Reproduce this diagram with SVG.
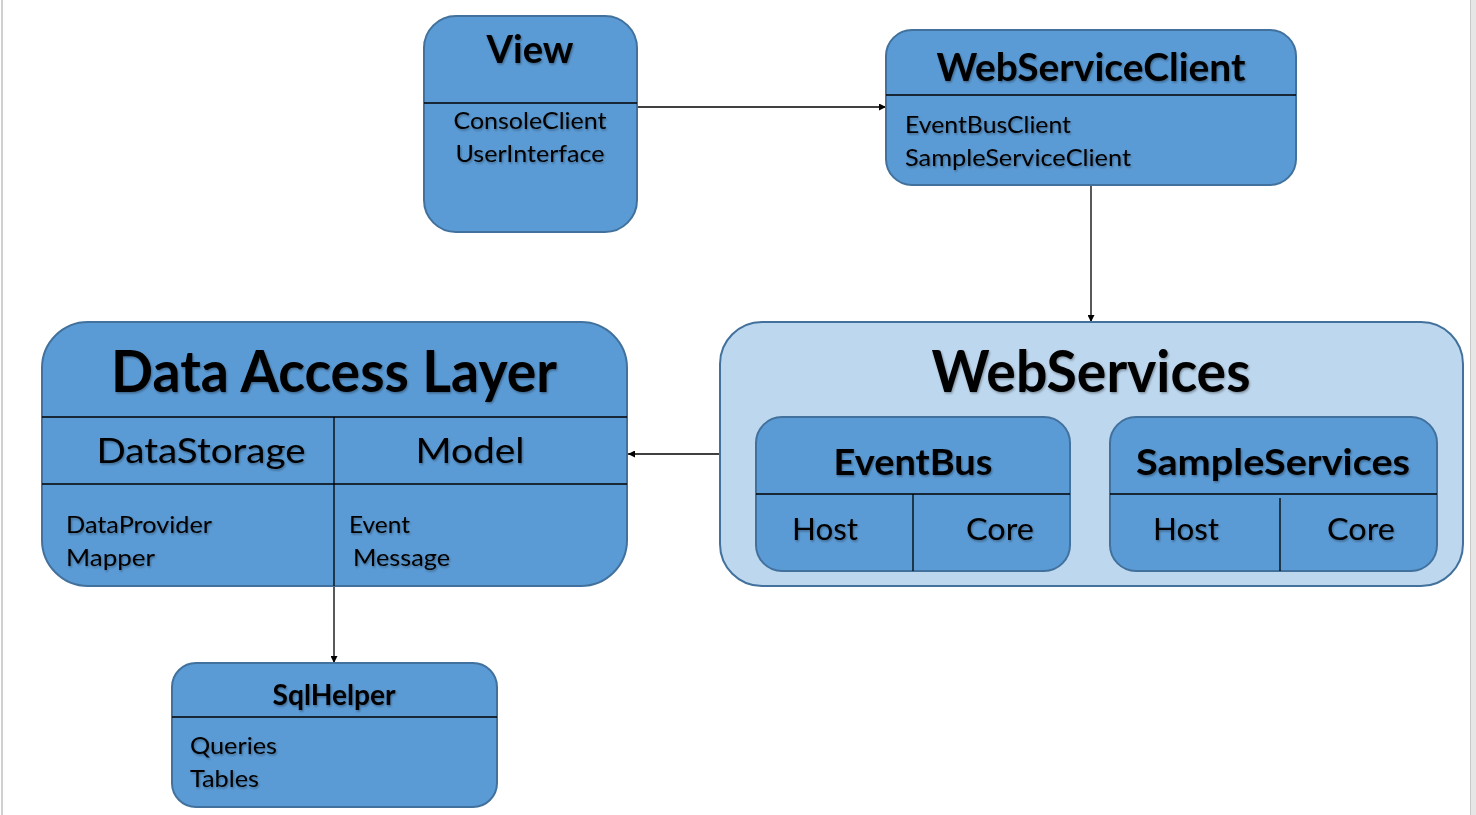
<svg xmlns="http://www.w3.org/2000/svg" width="1476" height="815" viewBox="0 0 1476 815">
<style>
.box{fill:#5b9bd5;stroke:#41719c;stroke-width:2}
.outer{fill:#bdd7ee;stroke:#41719c;stroke-width:2}
.div{stroke:#000;stroke-width:1.3;fill:none}
.conn{stroke:#000;stroke-width:1.3;fill:none}
text{font-family:Lato,"Liberation Sans",sans-serif;fill:#000;filter:url(#sh)}
.b{font-weight:bold}
.m{text-anchor:middle}
</style>
<defs>
<filter id="sh" x="-10%" y="-30%" width="120%" height="160%">
<feDropShadow dx="1" dy="1.5" stdDeviation="1" flood-color="#000" flood-opacity="0.35"/>
</filter>
<marker id="ah" viewBox="0 0 10 10" refX="10" refY="5" markerWidth="9" markerHeight="7" markerUnits="userSpaceOnUse" orient="auto">
<path d="M0,0 L10,5 L0,10 z" fill="#000"/>
</marker>
</defs>
<rect x="0" y="0" width="1476" height="815" fill="#fff"/>
<rect x="1470" y="0" width="6" height="815" fill="#e6e6e6"/>
<line x1="1470.5" y1="0" x2="1470.5" y2="815" stroke="#c8c8c8"/>
<line x1="2" y1="0" x2="2" y2="815" stroke="#d0d0d0" stroke-width="2"/>

<g id="connectors">
<line class="conn" x1="637" y1="107" x2="886" y2="107" marker-end="url(#ah)"/>
<line class="conn" x1="1091" y1="185" x2="1091" y2="322" marker-end="url(#ah)"/>
<line class="conn" x1="720" y1="454" x2="628" y2="454" marker-end="url(#ah)"/>
<line class="conn" x1="334" y1="586" x2="334" y2="663" marker-end="url(#ah)"/>
</g>

<g id="view">
<rect class="box" x="424" y="16" width="213" height="216" rx="32"/>
<line class="div" x1="424" y1="103" x2="637" y2="103"/>
<text class="b m" x="530" y="63" font-size="39" textLength="87" lengthAdjust="spacingAndGlyphs">View</text>
<text class="m" x="530" y="129" font-size="24" textLength="153" lengthAdjust="spacingAndGlyphs">ConsoleClient</text>
<text class="m" x="530" y="162" font-size="24" textLength="149" lengthAdjust="spacingAndGlyphs">UserInterface</text>
</g>

<g id="webserviceclient">
<rect class="box" x="886" y="30" width="410" height="155" rx="26"/>
<line class="div" x1="886" y1="95" x2="1296" y2="95"/>
<text class="b m" x="1091" y="81" font-size="39" textLength="309" lengthAdjust="spacingAndGlyphs">WebServiceClient</text>
<text x="905" y="133" font-size="24" textLength="166" lengthAdjust="spacingAndGlyphs">EventBusClient</text>
<text x="905" y="166" font-size="24" textLength="226" lengthAdjust="spacingAndGlyphs">SampleServiceClient</text>
</g>

<g id="webservices">
<rect class="outer" x="720" y="322" width="743" height="264" rx="42"/>
<text class="b m" x="1091" y="392" font-size="57" textLength="319" lengthAdjust="spacingAndGlyphs">WebServices</text>
</g>

<g id="eventbus">
<rect class="box" x="756" y="417" width="314" height="154" rx="26"/>
<line class="div" x1="756" y1="494" x2="1070" y2="494"/>
<line class="div" x1="913" y1="494" x2="913" y2="571"/>
<text class="b m" x="913" y="475" font-size="37" textLength="159" lengthAdjust="spacingAndGlyphs">EventBus</text>
<text x="792" y="540" font-size="30" textLength="66" lengthAdjust="spacingAndGlyphs">Host</text>
<text x="966" y="540" font-size="30" textLength="68" lengthAdjust="spacingAndGlyphs">Core</text>
</g>

<g id="sampleservices">
<rect class="box" x="1110" y="417" width="327" height="154" rx="26"/>
<line class="div" x1="1110" y1="494" x2="1437" y2="494"/>
<line class="div" x1="1280" y1="498" x2="1280" y2="571"/>
<text class="b m" x="1273" y="475" font-size="37" textLength="274" lengthAdjust="spacingAndGlyphs">SampleServices</text>
<text x="1153" y="540" font-size="30" textLength="66" lengthAdjust="spacingAndGlyphs">Host</text>
<text x="1327" y="540" font-size="30" textLength="68" lengthAdjust="spacingAndGlyphs">Core</text>
</g>

<g id="dataaccesslayer">
<rect class="box" x="42" y="322" width="585" height="264" rx="46"/>
<line class="div" x1="42" y1="417" x2="627" y2="417"/>
<line class="div" x1="42" y1="484" x2="627" y2="484"/>
<line class="div" x1="334" y1="417" x2="334" y2="586"/>
<text class="b m" x="334" y="392" font-size="57" textLength="446" lengthAdjust="spacingAndGlyphs">Data Access Layer</text>
<text class="m" x="201" y="463" font-size="35" textLength="209" lengthAdjust="spacingAndGlyphs">DataStorage</text>
<text class="m" x="470" y="463" font-size="35" textLength="109" lengthAdjust="spacingAndGlyphs">Model</text>
<text x="66" y="533" font-size="23" textLength="146" lengthAdjust="spacingAndGlyphs">DataProvider</text>
<text x="66" y="566" font-size="23" textLength="89" lengthAdjust="spacingAndGlyphs">Mapper</text>
<text x="349" y="533" font-size="23" textLength="61" lengthAdjust="spacingAndGlyphs">Event</text>
<text x="353" y="566" font-size="23" textLength="97" lengthAdjust="spacingAndGlyphs">Message</text>
</g>

<g id="sqlhelper">
<rect class="box" x="172" y="663" width="325" height="144" rx="24"/>
<line class="div" x1="172" y1="717" x2="497" y2="717"/>
<text class="b m" x="334" y="705" font-size="28" textLength="123" lengthAdjust="spacingAndGlyphs">SqlHelper</text>
<text x="190" y="754" font-size="24" textLength="87" lengthAdjust="spacingAndGlyphs">Queries</text>
<text x="190" y="787" font-size="24" textLength="69" lengthAdjust="spacingAndGlyphs">Tables</text>
</g>
</svg>
